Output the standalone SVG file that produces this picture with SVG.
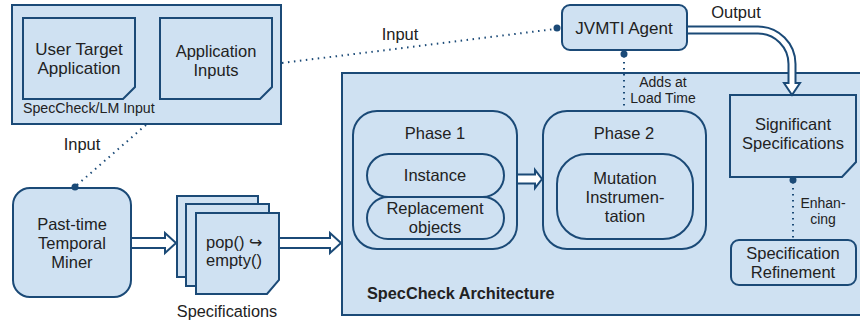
<svg xmlns="http://www.w3.org/2000/svg" width="860" height="322" viewBox="0 0 860 322">
<style>
.box{fill:#cfe1f2;stroke:#1b4a77;stroke-width:2}
.arr{fill:#ffffff;stroke:#1b4a77;stroke-width:2;stroke-linejoin:miter}
.dot{fill:none;stroke:#1b4a77;stroke-width:2;stroke-dasharray:1.5 4.5}
.end{fill:#1b4a77}
text{font-family:"Liberation Sans",Arial,sans-serif;fill:#222;text-anchor:middle;font-size:16.5px}
.sm{font-size:14px}
</style>
<rect width="860" height="322" fill="#ffffff"/>
<g id="specsys">
<rect class="box" x="342" y="73" width="530" height="242"/>
<text x="367" y="299" style="font-weight:bold;font-size:16.3px;text-anchor:start">SpecCheck Architecture</text>
</g>
<g id="input-group">
<rect class="box" x="12" y="5" width="269" height="119"/>
<text x="23" y="113" style="font-size:14.2px;text-anchor:start">SpecCheck/LM Input</text>
</g>
<g id="user-target">
<path class="box" d="M23 18H135V87L123 99H23Z"/>
<text x="79" y="55" style="font-size:17px">User Target</text>
<text x="79" y="74" style="font-size:17px">Application</text>
</g>
<g id="app-inputs">
<path class="box" d="M160 18H272V87L260 99H160Z"/>
<text x="216" y="57">Application</text>
<text x="216" y="76">Inputs</text>
</g>
<g id="jvmti">
<rect class="box" x="562" y="5" width="125" height="45" rx="8"/>
<text x="624" y="34" style="font-size:17px">JVMTI Agent</text>
</g>
<g id="miner">
<rect class="box" x="13" y="188" width="118" height="109" rx="17"/>
<text x="72" y="230">Past-time</text>
<text x="72" y="249">Temporal</text>
<text x="72" y="268">Miner</text>
</g>
<g id="specs">
<rect class="box" x="177" y="196" width="81" height="81"/>
<rect class="box" x="186" y="204" width="83" height="82"/>
<path class="box" d="M196 213H279V280L267 294H196Z"/>
<text x="206" y="248" style="text-anchor:start">pop() <tspan style="font-family:'DejaVu Sans',sans-serif;font-size:16px">↪</tspan></text>
<text x="206" y="266" style="text-anchor:start">empty()</text>
<text x="227" y="317" style="font-size:16.3px">Specifications</text>
</g>
<g id="phase1">
<rect class="box" x="353" y="111" width="164" height="138" rx="24"/>
<text x="435" y="139">Phase 1</text>
</g>
<g id="instance">
<rect class="box" x="367" y="154" width="137" height="43" rx="21.5"/>
<text x="435" y="181">Instance</text>
</g>
<g id="replacement">
<rect class="box" x="367" y="197" width="137" height="42" rx="21"/>
<text x="435" y="214">Replacement</text>
<text x="435" y="233">objects</text>
</g>
<g id="phase2">
<rect class="box" x="543" y="111" width="163" height="138" rx="24"/>
<text x="624" y="139">Phase 2</text>
</g>
<g id="mutation">
<rect class="box" x="557" y="154" width="136" height="85" rx="30"/>
<text x="625" y="184">Mutation</text>
<text x="625" y="203">Instrumen-</text>
<text x="625" y="222">tation</text>
</g>
<g id="significant">
<path class="box" d="M730 95H856V162L842 177H730Z"/>
<text x="793" y="130">Significant</text>
<text x="793" y="149">Specifications</text>
</g>
<g id="refinement">
<rect class="box" x="731" y="240" width="125" height="45" rx="8"/>
<text x="793" y="259">Specification</text>
<text x="793" y="278">Refinement</text>
</g>
<g id="connectors">
<path class="dot" d="M282 63L555 29"/>
<circle class="end" cx="557" cy="28" r="3.5"/>
<text x="400" y="40">Input</text>
<path class="dot" d="M77 185L147 124"/>
<circle class="end" cx="75" cy="187" r="3.5"/>
<text x="82" y="150">Input</text>
<path class="dot" d="M624 56V110"/>
<circle class="end" cx="624" cy="54" r="3.5"/>
<text x="663" y="87" class="sm">Adds at</text>
<text x="663" y="103" class="sm">Load Time</text>
<path class="dot" d="M793 182V240"/>
<circle class="end" cx="793" cy="180" r="3.5"/>
<text x="823" y="208" class="sm">Enhan-</text>
<text x="823" y="224" class="sm">cing</text>
<path class="arr" d="M687 26.5H758A37.5 37.5 0 0 1 795.5 64V83H800L792 95L784 83H788.5V64A30.5 30.5 0 0 0 758 33.5H687Z"/>
<text x="736" y="18">Output</text>
<path class="arr" d="M131 238H165V233L176 243L165 253V248H131Z"/>
<path class="arr" d="M279 238H330V233L341 243L330 253V248H279Z"/>
<path class="arr" d="M517 174.5H535V170L542 179L535 188V183.5H517Z"/>
</g>
</svg>
